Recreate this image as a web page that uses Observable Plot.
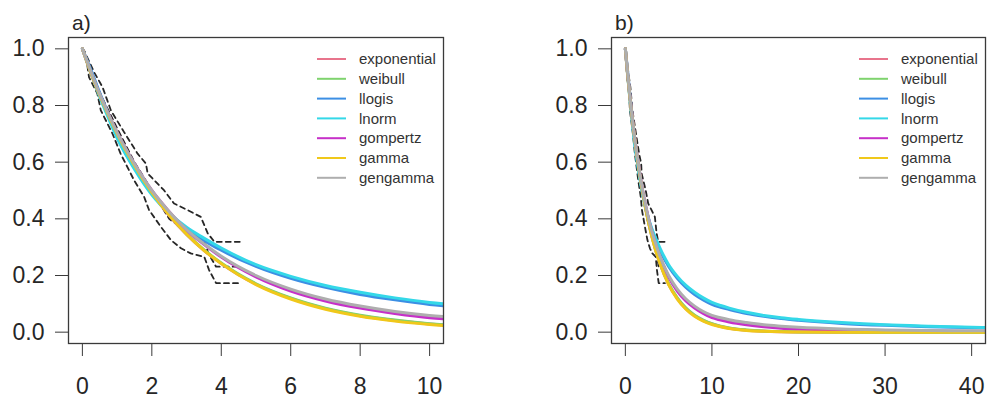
<!DOCTYPE html>
<html>
<head>
<meta charset="utf-8">
<script src="https://cdn.jsdelivr.net/npm/d3@7"></script>
<script src="https://cdn.jsdelivr.net/npm/@observablehq/plot@0.6"></script>
<style>
  html, body { margin: 0; padding: 0; background: #fff; }
  #wrap { position: relative; width: 987px; height: 398px; overflow: hidden; background: #fff; }
  #wrap svg { position: absolute; top: 0; }
</style>
</head>
<body>
<div id="wrap"></div>
<script>
// ---- data ----
const seriesNames = ["exponential", "weibull", "llogis", "lnorm", "gompertz", "gamma", "gengamma"];
const seriesColors = ["#E8748C", "#7FD36E", "#3C8FE4", "#34D8E8", "#C630C8", "#F0C81A", "#AEAEAE"];

const times = [0, 0.25, 0.5, 0.75, 1, 1.5, 2, 2.5, 3, 3.5, 4, 5, 6, 7, 8, 9, 10, 11, 12, 14, 16, 18, 20, 25, 30, 35, 40, 42];
const exponential = [1, 0.915, 0.837, 0.766, 0.701, 0.587, 0.492, 0.412, 0.345, 0.289, 0.242, 0.169, 0.119, 0.083, 0.058, 0.041, 0.029, 0.020, 0.014, 0.007, 0.0034, 0.0017, 0.0008, 0.0001, 0, 0, 0, 0];
const weibull = [1, 0.912, 0.834, 0.764, 0.700, 0.587, 0.493, 0.414, 0.347, 0.291, 0.244, 0.171, 0.121, 0.085, 0.060, 0.043, 0.030, 0.021, 0.015, 0.008, 0.004, 0.002, 0.001, 0.0002, 0, 0, 0, 0];
const llogis = [1, 0.925, 0.845, 0.770, 0.690, 0.580, 0.490, 0.420, 0.366, 0.324, 0.289, 0.232, 0.190, 0.158, 0.133, 0.114, 0.098, 0.088, 0.080, 0.066, 0.056, 0.048, 0.042, 0.031, 0.024, 0.019, 0.016, 0.015];
const lnorm = [1, 0.915, 0.830, 0.755, 0.685, 0.575, 0.485, 0.420, 0.370, 0.332, 0.297, 0.238, 0.197, 0.165, 0.141, 0.121, 0.105, 0.094, 0.085, 0.070, 0.059, 0.051, 0.045, 0.034, 0.026, 0.021, 0.017, 0.016];
const gompertz = [1, 0.915, 0.838, 0.770, 0.705, 0.594, 0.500, 0.425, 0.360, 0.310, 0.265, 0.195, 0.145, 0.110, 0.085, 0.066, 0.051, 0.043, 0.036, 0.026, 0.019, 0.014, 0.011, 0.007, 0.005, 0.004, 0.0035, 0.0034];
const gamma = [1, 0.914, 0.836, 0.766, 0.701, 0.588, 0.493, 0.413, 0.346, 0.289, 0.242, 0.168, 0.117, 0.081, 0.056, 0.039, 0.027, 0.019, 0.013, 0.006, 0.003, 0.0014, 0.0007, 0.0001, 0, 0, 0, 0];
const gengamma = [1, 0.918, 0.840, 0.770, 0.705, 0.594, 0.500, 0.425, 0.362, 0.312, 0.268, 0.200, 0.152, 0.117, 0.092, 0.073, 0.059, 0.051, 0.044, 0.034, 0.026, 0.021, 0.017, 0.011, 0.008, 0.006, 0.005, 0.0045];

// Kaplan-Meier estimate and confidence limits
const kmEstTime = [0, 0.1, 0.3, 0.6, 1, 1.5, 2, 2.5, 3, 3.5, 3.62, 3.85, 4.57];
const kmEst = [1, 0.97, 0.90, 0.82, 0.72, 0.60, 0.50, 0.40, 0.355, 0.33, 0.28, 0.231, 0.231];
const kmUpperTime = [0, 0.05, 0.335, 0.58, 0.82, 1.2, 1.59, 1.83, 1.88, 2.35, 2.64, 3.03, 3.41, 3.61, 3.8, 4.57];
const kmUpper = [1, 0.994, 0.918, 0.865, 0.783, 0.706, 0.63, 0.595, 0.56, 0.501, 0.454, 0.431, 0.407, 0.349, 0.319, 0.319];
const kmLowerTime = [0, 0.095, 0.19, 0.43, 0.53, 0.87, 1.1, 1.49, 1.78, 1.92, 2.26, 2.55, 2.84, 3.12, 3.51, 3.65, 3.85, 4.57];
const kmLower = [1, 0.982, 0.90, 0.842, 0.783, 0.70, 0.63, 0.536, 0.477, 0.431, 0.372, 0.325, 0.296, 0.278, 0.266, 0.219, 0.173, 0.173];

const yTicks = [0, 0.2, 0.4, 0.6, 0.8, 1.0];
const xTicksA = [0, 2, 4, 6, 8, 10];
const xTicksB = [0, 10, 20, 30, 40];
const panelLabels = ["a)", "b)"];

// ---- build tables ----
const seriesValues = [exponential, weibull, llogis, lnorm, gompertz, gamma, gengamma];
const curves = seriesNames.map((name, k) => times.map((t, i) => ({t, s: seriesValues[k][i], name})));
const kmLines = [
  kmEstTime.map((t, i) => ({t, s: kmEst[i]})),
  kmUpperTime.map((t, i) => ({t, s: kmUpper[i]})),
  kmLowerTime.map((t, i) => ({t, s: kmLower[i]}))
];

const panels = [
  {label: panelLabels[0], xDomain: [-0.4, 10.4], ticks: xTicksA, left: 0, width: 494, marginLeft: 68, marginRight: 51},
  {label: panelLabels[1], xDomain: [-1.6, 41.6], ticks: xTicksB, left: 494, width: 493, marginLeft: 117, marginRight: 2}
];

const H = 398, MT = 37, MB = 55;
const font = "'Liberation Sans', Arial, Helvetica, sans-serif";
const tickFont = 23;
const wrap = document.getElementById("wrap");

for (const p of panels) {
  const marks = [];
  for (const km of kmLines) {
    marks.push(Plot.line(km, {x: "t", y: "s", stroke: "#262626", strokeWidth: 1.8, strokeDasharray: "5,4", clip: true}));
  }
  curves.forEach((c, k) => {
    marks.push(Plot.line(c, {x: "t", y: "s", stroke: seriesColors[k], strokeWidth: 3, curve: "monotone-x", clip: true}));
  });
  marks.push(Plot.frame({stroke: "#3a3a3a", strokeWidth: 1.3}));
  marks.push(Plot.axisX({ticks: p.ticks, tickSize: 13, tickPadding: 21, fontSize: tickFont, tickFormat: d => String(d), label: null, stroke: "#3a3a3a", fill: "#262626"}));
  marks.push(Plot.axisY({ticks: yTicks, tickSize: 13, tickPadding: 11, fontSize: tickFont, tickFormat: d => d.toFixed(1), label: null, stroke: "#3a3a3a", fill: "#262626"}));

  const svg = Plot.plot({
    width: p.width,
    height: H,
    marginLeft: p.marginLeft,
    marginRight: p.marginRight,
    marginTop: MT,
    marginBottom: MB,
    x: {domain: p.xDomain},
    y: {domain: [-0.04, 1.04]},
    style: {fontFamily: font, fontSize: tickFont + "px", color: "#262626", background: "transparent", overflow: "visible"},
    marks
  });
  svg.style.left = p.left + "px";
  wrap.appendChild(svg);

  const sel = d3.select(svg);
  sel.selectAll('g[aria-label="x-axis tick label"] text, g[aria-label="y-axis tick label"] text')
    .style("font-size", tickFont + "px");

  const frameLeft = p.marginLeft, frameRight = p.width - p.marginRight;
  // panel label
  sel.append("text")
    .attr("x", frameLeft + 4).attr("y", 30)
    .attr("text-anchor", "start")
    .attr("font-family", font).attr("font-size", 21).attr("fill", "#262626")
    .text(p.label);
  // legend
  const lg = sel.append("g");
  seriesNames.forEach((name, k) => {
    const yy = MT + 22 + k * 19.8;
    lg.append("line")
      .attr("x1", frameRight - 126).attr("x2", frameRight - 97)
      .attr("y1", yy).attr("y2", yy)
      .attr("stroke", seriesColors[k]).attr("stroke-width", 2);
    lg.append("text")
      .attr("x", frameRight - 84).attr("y", yy).attr("dy", "0.35em")
      .attr("text-anchor", "start")
      .attr("font-family", font).attr("font-size", 15).attr("fill", "#333")
      .text(name);
  });
}
</script>
</body>
</html>
